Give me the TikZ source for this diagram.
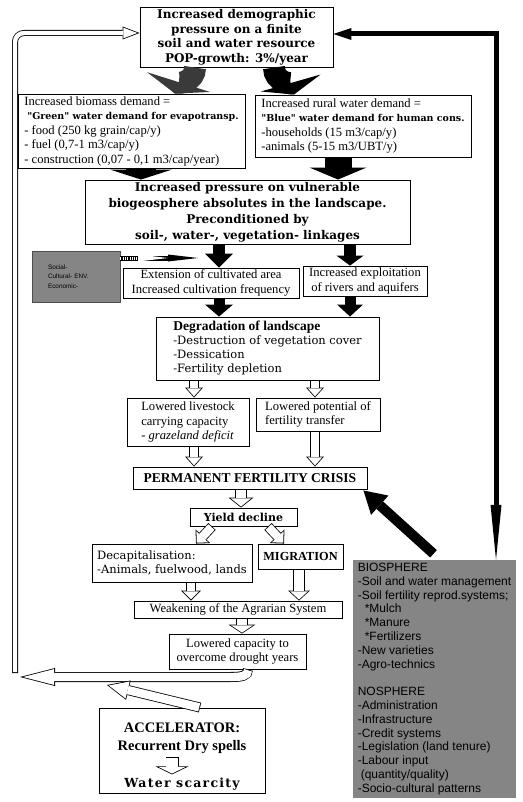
\documentclass[tikz,border=0pt]{standalone}
\usepackage{fontspec}
\setmainfont{Liberation Serif}
\setsansfont{Liberation Sans}
\newfontfamily\bookfont{DejaVu Serif}
\newfontfamily\spacedfont{DejaVu Serif}[LetterSpace=10]
\usetikzlibrary{arrows.meta,calc,positioning}
\definecolor{panel-gray}{HTML}{858585}
\definecolor{stipple}{HTML}{3a3a3a}

\newcommand{\plainsize}{\fontsize{12.6}{14.5}\selectfont}
\newcommand{\headfont}{\bookfont\bfseries\fontsize{12}{14.5}\selectfont}
\newcommand{\subhead}{\bookfont\bfseries\fontsize{9.5}{14.5}\selectfont}

\tikzset{
    box/.style={draw, line width=0.9pt, fill=white, inner sep=2pt, align=center, font=\plainsize},
    listbox/.style={box, align=left},
    panel/.style={fill=panel-gray, inner sep=2pt, align=left},
    blk/.style n args={3}{draw=black, line width=#1, -{Triangle[width=#2,length=#3,line width=0pt]}},
    hollow/.code n args={3}{%
        \pgfmathsetlengthmacro\stemin{#1-1.6pt}%
        \pgfmathsetmacro\tipang{atan((#2/2)/(#3))}%
        \pgfmathsetlengthmacro\tipback{0.8pt/sin(\tipang)}%
        \pgfmathsetlengthmacro\lenin{#3-0.8pt-\tipback}%
        \pgfmathsetlengthmacro\widin{#2*\lenin/(#3)}%
        \tikzset{draw=black, line width=#1, -{Triangle[width=#2,length=#3,line width=0pt]},
            postaction={draw=white, line width=\stemin, shorten >=\tipback, shorten <=0.8pt,
                -{Triangle[width=\widin,length=\lenin,line width=0pt]}}}%
    },
    hatched/.style={draw=black, line width=5pt, -{Triangle[width=7pt,length=30pt,line width=0pt]},
        postaction={draw=white, line width=3pt, dash pattern=on 1pt off 1.3pt, shorten >=30pt}}
}

\begin{document}
\begin{tikzpicture}[x=1pt, y=-1pt]
    \useasboundingbox (0,0) rectangle (522,802);

    % demand side
    \node[box, font=\headfont, minimum width=193pt, minimum height=59pt] (top) at (236.5,37.5)
        {Increased demographic\\pressure on a finite\\soil and water resource\\POP-growth: 3\%/year};
    \node[listbox, minimum width=227pt, minimum height=74pt] (bio) at (131.5,131)
        {Increased biomass demand =\\\hspace*{3pt}{\subhead "Green" water demand for evapotransp.}\\- food (250 kg grain/cap/y)\\- fuel (0,7-1 m3/cap/y)\\- construction (0,07 - 0,1 m3/cap/year)};
    \node[listbox, minimum width=216pt, minimum height=62pt] (rural) at (363,126)
        {Increased rural water demand =\\{\subhead "Blue" water demand for human cons.}\\-households (15 m3/cap/y)\\-animals (5-15 m3/UBT/y)};
    \node[box, font=\bookfont\bfseries\fontsize{12}{16}\selectfont, minimum width=325pt, minimum height=64pt] (press) at (247.5,212)
        {Increased pressure on vulnerable\\biogeosphere absolutes in the landscape.\\Preconditioned by\\soil-, water-, vegetation- linkages};

    % landscape
    \node[panel, draw=black!70, line width=0.6pt, minimum width=88pt, minimum height=51pt, text width=56pt,
        font=\sffamily\fontsize{6.4}{9.5}\selectfont] (social) at (76,276.5) {Social-\\Cultural- ENV.\\Economic-};
    \node[box, minimum width=176pt, minimum height=30pt] (ext) at (211,283)
        {Extension of cultivated area\\Increased cultivation frequency};
    \node[box, minimum width=124pt, minimum height=28pt] (expl) at (365,281)
        {Increased exploitation\\of rivers and aquifers};
    \node[listbox, font=\bookfont\fontsize{11.5}{14}\selectfont, minimum width=223pt, minimum height=63pt] (degr) at (267.5,348.5)
        {{\rmfamily\bfseries\fontsize{13.5}{14}\selectfont Degradation of landscape}\\-Destruction of vegetation cover\\-Dessication\\-Fertility depletion};
    \node[listbox, minimum width=122pt, minimum height=48pt] (livest) at (188,422)
        {Lowered livestock\\carrying capacity\\\textit{- grazeland deficit}};
    \node[listbox, minimum width=124pt, minimum height=33pt] (fertr) at (318,414.5)
        {Lowered potential of\\fertility transfer};

    % crisis chain
    \node[box, font=\bfseries\fontsize{13.5}{15}\selectfont, minimum width=234pt, minimum height=22pt] (crisis) at (250,478)
        {PERMANENT FERTILITY CRISIS};
    \node[box, font=\bookfont\bfseries\fontsize{11}{13}\selectfont, minimum width=107pt, minimum height=18pt, inner sep=0pt] (yield) at (243.5,517)
        {Yield decline};
    \node[listbox, font=\bookfont\fontsize{11.5}{14}\selectfont, minimum width=160pt, minimum height=38pt] (decap) at (172,563)
        {Decapitalisation:\\-Animals, fuelwood, lands};
    \node[box, font=\bfseries\fontsize{12.3}{14}\selectfont, minimum width=85pt, minimum height=25pt] (migr) at (300.5,556.5)
        {MIGRATION};
    \node[box, minimum width=208pt, minimum height=17pt, inner sep=0pt] (weak) at (238,609.5)
        {Weakening of the Agrarian System};
    \node[box, minimum width=137pt, minimum height=35pt] (lowcap) at (237.5,651.5)
        {Lowered capacity to\\overcome drought years};

    % accelerator
    \node[box, minimum width=166pt, minimum height=85pt] (accel) at (182,750.5) {};
    \node[font=\bfseries\fontsize{14.5}{18}\selectfont, align=center, inner xsep=0pt, inner ysep=2.9pt] (dry) at (182,738.75)
        {ACCELERATOR:\\Recurrent Dry spells};
    \node[font=\spacedfont\bfseries\fontsize{12.5}{14}\selectfont, inner xsep=0pt, inner ysep=3.75pt] (scarce) at (182,784.5)
        {Water scarcity};

    % measures
    \node[panel, minimum width=163pt, minimum height=238pt, font=\sffamily\fontsize{12}{13.8}\selectfont] (sphere) at (434.5,679)
        {BIOSPHERE\\-Soil and water management\\-Soil fertility reprod.systems;\\\hspace*{7pt}*Mulch\\\hspace*{7pt}*Manure\\\hspace*{7pt}*Fertilizers\\-New varieties\\-Agro-technics\\[13.8pt]NOSPHERE\\-Administration\\-Infrastructure\\-Credit systems\\-Legislation (land tenure)\\-Labour input\\\hspace*{3pt}(quantity/quality)\\-Socio-cultural patterns};

    \coordinate (hatchtip) at (198,258);
    \coordinate (rcorner) at (496,34);
    \coordinate (loopfoot) at (15,673);
    \coordinate (loopbend) at (15,33);
    \coordinate (loopin) at (20,677);
    \coordinate (accelin) at (107,685);

    % solid arrows
    \draw[blk={22pt}{66pt}{12pt}, draw=stipple] (top.south -| 195,0) .. controls (195,82) and (178,84) .. (bio.north -| 175,0);
    \draw[blk={22pt}{62pt}{12pt}] (top.south -| 274,0) .. controls (274,82) and (291,84) .. (rural.north -| 294,0);
    \draw[blk={30pt}{62pt}{10pt}] (bio.south -| 141,0) -- (press.north -| 141,0);
    \draw[blk={27pt}{57pt}{12pt}] (rural.south -| 338,0) -- (press.north -| 338,0);
    \draw[blk={12pt}{28pt}{14pt}] (press.south -| 219,0) -- (ext.north -| 219,0);
    \draw[blk={12pt}{27pt}{10pt}] (press.south -| 350,0) -- (expl.north -| 350,0);
    \draw[blk={11pt}{28pt}{12pt}] (ext.south -| 219,0) -- (degr.north -| 219,0);
    \draw[blk={11pt}{26pt}{12pt}] (expl.south -| 350,0) -- (degr.north -| 350,0);
    \draw[hatched] (social.east |- hatchtip) -- (hatchtip);

    % hollow arrows
    \draw[hollow={10pt}{18pt}{10pt}] (degr.south -| 194,0) -- (livest.north -| 194,0);
    \draw[hollow={10pt}{18pt}{10pt}] (degr.south -| 315,0) -- (fertr.north -| 315,0);
    \draw[hollow={10pt}{18pt}{10pt}] (livest.south -| 194,0) -- (crisis.north -| 194,0);
    \draw[hollow={10pt}{18pt}{10pt}] (fertr.south -| 315,0) -- (crisis.north -| 315,0);
    \draw[hollow={12pt}{25pt}{10pt}] (crisis.south -| 241,0) -- (yield.north -| 241,0);
    \draw[hollow={10pt}{20pt}{10pt}] (yield.south -| 212,0) -- (decap.north -| 196,0);
    \draw[hollow={10pt}{20pt}{10pt}] (yield.south -| 268,0) -- (migr.north -| 284,0);
    \draw[hollow={10pt}{20pt}{10pt}] (decap.south -| 191,0) -- (weak.north -| 191,0);
    \draw[hollow={12pt}{22pt}{10pt}] (migr.south -| 299,0) -- (weak.north -| 299,0);
    \draw[hollow={12pt}{27pt}{9pt}] (weak.south -| 242,0) -- (lowcap.north -| 242,0);
    \draw[hollow={10pt}{18pt}{35pt}] (lowcap.south -| 248,0) .. controls (248,676) and (242,677) .. (230,677) -- (loopin);
    \draw[hollow={6pt}{13pt}{17pt}, rounded corners=9pt] (loopfoot) |- (top.west |- loopbend);
    \draw[hollow={10pt}{20pt}{22pt}] (accel.north -| 200,0) -- (accelin);
    \draw[hollow={13pt}{33pt}{8pt}] (dry.south -| 172,0) -- (scarce.north -| 172,0);

    % feedback from measures
    \draw[blk={10pt}{26pt}{22pt}] ([xshift=-1pt,yshift=6pt]sphere.north) -- ([xshift=-4pt,yshift=-1pt]crisis.south east);
    \draw[line width=5pt, {Triangle[width=11pt,length=55pt,line width=0pt]}-{Triangle[width=12pt,length=18pt,line width=0pt]}]
        (sphere.north -| rcorner) |- (top.east |- rcorner);
\end{tikzpicture}
\end{document}
